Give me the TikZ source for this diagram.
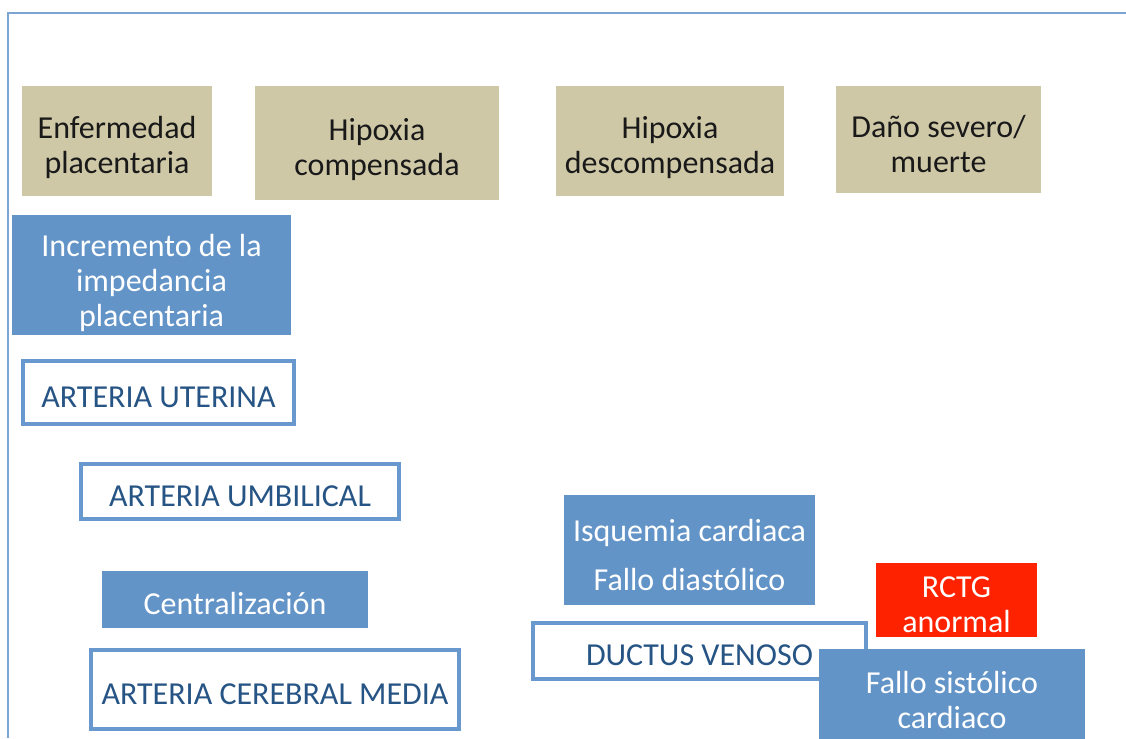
\documentclass[tikz,border=0pt]{standalone}
\usepackage{fontspec}
\setmainfont{Carlito}
\usepackage{tikz}
\definecolor{tanbox}{RGB}{207,200,167}
\definecolor{bluebox}{RGB}{99,148,200}
\definecolor{blueline}{RGB}{104,152,206}
\definecolor{bluetext}{RGB}{38,84,132}
\definecolor{frameline}{RGB}{125,165,210}
\definecolor{redbox}{RGB}{255,34,0}

\begin{document}
\begin{tikzpicture}[
  x=0.75pt, y=-0.75pt,
  every node/.style={font=\fontsize{24}{26.25}\selectfont, align=center, inner sep=0pt},
  txth/.style={text height=#1, text depth=0pt},
  txth/.default=22pt,
  stage/.style={rectangle, fill=tanbox, text=black!90, txth=49pt},
  fact/.style={rectangle, fill=bluebox, text=white, txth=49pt},
  vessel/.style={rectangle, draw=blueline, line width=3pt, fill=white, text=bluetext, txth},
  alarm/.style={rectangle, fill=redbox, text=white, txth=49pt}
]
  \useasboundingbox (0,0) rectangle (1126,738);
  % outer frame
  \draw[frameline, line width=1.2pt] (8,738)--(8,13)--(1126,13);
  % stages
  \node[stage, minimum width=142.5pt, minimum height=82.5pt] (enf) at (117,141)
    {Enfermedad\\placentaria};
  \node[stage, minimum width=183pt, minimum height=85.5pt] (hipc) at (377,143)
    {Hipoxia\\compensada};
  \node[stage, minimum width=171pt, minimum height=82.5pt] (hipd) at (670,141)
    {Hipoxia\\descompensada};
  \node[stage, minimum width=153.75pt, minimum height=80.25pt] (dano) at (938.5,139.5)
    {Daño severo/\\muerte};
  % findings
  \node[fact, txth=77pt, minimum width=209.25pt, minimum height=90pt] (incr) at (151.5,275)
    {Incremento de la\\impedancia\\placentaria};
  \node[vessel, minimum width=203.25pt, minimum height=47.25pt] (aut) at (158.5,392.5)
    {ARTERIA UTERINA};
  \node[vessel, minimum width=238.5pt, minimum height=41.25pt] (aumb) at (240,491.5)
    {ARTERIA UMBILICAL};
  \node[fact, txth, minimum width=199.5pt, minimum height=42.75pt] (centr) at (235,599.5)
    {Centralización};
  \node[vessel, minimum width=276pt, minimum height=59.25pt] (acm) at (275,689.5)
    {ARTERIA CEREBRAL MEDIA};
  \node[fact, txth=60pt, minimum width=188.25pt, minimum height=82.5pt] (isq) at (689.5,550)
    {Isquemia cardiaca\\[10pt]Fallo diastólico};
  \node[alarm, minimum width=120.75pt, minimum height=55.5pt] (rctg) at (956.5,600)
    {RCTG\\anormal};
  \node[vessel, minimum width=249.75pt, minimum height=42pt] (dv) at (699.5,651)
    {DUCTUS VENOSO};
  \node[fact, txth=47pt, minimum width=199.5pt, minimum height=72pt] (fsis) at (952,697)
    {Fallo sistólico\\cardiaco};
\end{tikzpicture}
\end{document}
